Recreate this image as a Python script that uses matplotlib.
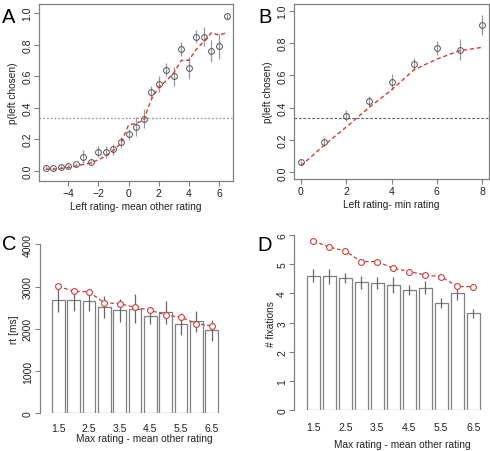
import numpy as np
import matplotlib
matplotlib.use('Agg')
import matplotlib.pyplot as plt

plt.rcParams['font.family'] = ['Liberation Sans', 'DejaVu Sans']
plt.rcParams['font.size'] = 7

##################################################################
# panel A: p(left chosen) vs left rating - mean other rating
xA = [-5.5, -5, -4.5, -4, -3.5, -3, -2.5, -2, -1.5, -1, -0.5, 0, 0.5,
      1, 1.5, 2, 2.5, 3, 3.5, 4, 4.5, 5, 5.5, 6, 6.5]
pA = [0.02, 0.015, 0.025, 0.03, 0.04, 0.09, 0.055, 0.12, 0.12, 0.135, 0.18, 0.23, 0.28,
      0.33, 0.50, 0.55, 0.64, 0.60, 0.77, 0.65, 0.85, 0.85, 0.76, 0.79, 0.98]
eA = [0.01, 0.01, 0.012, 0.015, 0.012, 0.04, 0.015, 0.035, 0.04, 0.035, 0.035, 0.035, 0.06,
      0.06, 0.04, 0.05, 0.04, 0.06, 0.045, 0.07, 0.04, 0.06, 0.07, 0.08, 0.015]
mA = [0.01, 0.01, 0.015, 0.02, 0.03, 0.04, 0.05, 0.07, 0.095, 0.13, 0.175, 0.29, 0.30,
      0.32, 0.45, 0.53, 0.57, 0.62, 0.70, 0.70, 0.77, 0.82, 0.875, 0.86, 0.875]

# panel B: p(left chosen) vs left rating - min rating
xB = [0, 1, 2, 3, 4, 5, 6, 7, 8]
pB = [0.062, 0.19, 0.35, 0.44, 0.56, 0.67, 0.77, 0.757, 0.91]
eB = [0.012, 0.025, 0.035, 0.035, 0.05, 0.04, 0.045, 0.065, 0.06]
mB = [0.04, 0.165, 0.28, 0.40, 0.51, 0.635, 0.70, 0.752, 0.773]

# panels C, D: bars over max rating - mean other rating
cats = ['1.5', '2', '2.5', '3', '3.5', '4', '4.5', '5', '5.5', '6', '6.5']
rtC = [2675, 2675, 2650, 2517, 2438, 2477, 2304, 2390, 2114, 2177, 1964]
rtE = [275, 250, 240, 270, 270, 340, 185, 270, 250, 250, 250]
rtM = [3006, 2888, 2872, 2619, 2596, 2509, 2438, 2327, 2272, 2122, 2067]

fxD = [4.61, 4.59, 4.52, 4.38, 4.35, 4.28, 4.11, 4.20, 3.67, 4.00, 3.32]
fxE = [0.21, 0.26, 0.17, 0.22, 0.20, 0.27, 0.17, 0.23, 0.17, 0.24, 0.16]
fxM = [5.79, 5.59, 5.45, 5.09, 5.09, 4.86, 4.75, 4.63, 4.57, 4.24, 4.23]

##################################################################
W, H = 490., 452.
red = '#c8403f'
gray = '#808080'
txt = '#222222'

def box(l, t, r, b):
    return [l/W, 1-b/H, (r-l)/W, (b-t)/H]

fig = plt.figure(figsize=(W/100, H/100), dpi=100)

def style(ax):
    for s in ax.spines.values():
        s.set_color(gray)
        s.set_linewidth(0.9)
    ax.tick_params(colors=gray, labelcolor=txt, length=3.6, width=0.8, pad=1.5, labelsize=7.5)
    ax.tick_params(axis='y', labelrotation=90)
    for lab in ax.get_yticklabels():
        lab.set_va('center')

##########################
# A
axA = fig.add_axes(box(39.3, 5, 232.7, 181.7))
axA.axhline(1/3., color='#999999', lw=0.9, ls=(0, (1.5, 1.5)))
axA.errorbar(xA, pA, yerr=eA, fmt='none', ecolor='#999999', elinewidth=0.9, capsize=0)
axA.plot(xA, pA, 'o', mfc='none', mec='#555555', ms=4.2, mew=0.7)
axA.plot(xA, mA, '-', color=red, lw=1.0, dashes=(3, 2))
axA.set_xlim(-5.92, 6.91)
axA.set_ylim(-0.063, 1.057)
axA.set_xticks([-4, -2, 0, 2, 4, 6])
axA.set_yticks([0, 0.2, 0.4, 0.6, 0.8, 1.0])
axA.set_yticklabels(['0.0', '0.2', '0.4', '0.6', '0.8', '1.0'])
style(axA)
axA.set_xlabel('Left rating- mean other rating', color=txt, fontsize=7.3, labelpad=2)
axA.set_ylabel('p(left chosen)', color=txt, fontsize=7.3, labelpad=3)

# B
axB = fig.add_axes(box(294.3, 5, 489, 180))
axB.axhline(1/3., color='#666666', lw=0.8, ls=(0, (2.5, 1.5)))
axB.errorbar(xB, pB, yerr=eB, fmt='none', ecolor='#999999', elinewidth=0.9, capsize=0)
axB.plot(xB, pB, 'o', mfc='none', mec='#555555', ms=4.2, mew=0.7)
axB.plot(xB, mB, '-', color=red, lw=1.0, dashes=(3, 2))
axB.set_xlim(-0.29, 8.3)
axB.set_ylim(-0.041, 1.041)
axB.set_xticks([0, 2, 4, 6, 8])
axB.set_yticks([0, 0.2, 0.4, 0.6, 0.8, 1.0])
axB.set_yticklabels(['0.0', '0.2', '0.4', '0.6', '0.8', '1.0'])
style(axB)
axB.set_xlabel('Left rating- min rating', color=txt, fontsize=7.3, labelpad=2)
axB.set_ylabel('p(left chosen)', color=txt, fontsize=7.3, labelpad=3)

##########################
# C and D (barplots)
def barpanel(ax, vals, errs, model, ymax, yt, xlab, xlab_x, xlab_y, tpad):
    pos = np.arange(len(cats))
    ax.bar(pos, vals, width=0.83, color='white', edgecolor=gray, lw=0.9, zorder=2)
    ax.errorbar(pos, vals, yerr=errs, fmt='none', ecolor='#666666', elinewidth=0.9, capsize=0, zorder=3)
    ax.plot(pos, model, '-', color=red, lw=0.9, dashes=(3, 2), zorder=4)
    ax.plot(pos, model, 'o', mfc='white', mec=red, ms=4.2, mew=0.8, zorder=5)
    for s in ['top', 'right', 'bottom']:
        ax.spines[s].set_visible(False)
    ax.spines['left'].set_bounds(0, ymax)
    ax.set_ylim(0, ymax)
    ax.set_yticks(yt)
    style(ax)
    ax.set_xticks(pos[::2])
    ax.set_xticklabels(cats[::2])
    ax.tick_params(axis='x', length=0, pad=tpad)
    ax.set_xlabel(xlab, color=txt, fontsize=7.3, va='center')
    ax.xaxis.set_label_coords(xlab_x, xlab_y)

axC = fig.add_axes(box(40, 245.3, 230, 414.3))
axC.set_xlim(-1.18, 11.18)
barpanel(axC, rtC, rtE, rtM, 4000, [0, 1000, 2000, 3000, 4000],
         'Max rating - mean other rating', (144-40)/190., -(439.5-414.3)/169., 7.2)
axC.set_ylabel('rt [ms]', color=txt, fontsize=7.3, labelpad=3)

axD = fig.add_axes(box(294.3, 236, 490, 411.3))
axD.set_xlim(-1.19, 11.05)
barpanel(axD, fxD, fxE, fxM, 6, [0, 1, 2, 3, 4, 5, 6],
         'Max rating - mean other rating', (402-294.3)/195.7, -(445-411.3)/175.3, 8.6)
axD.set_ylabel('# fixations', color=txt, fontsize=7.3, labelpad=1)

##########################
# panel letters
for lab, x, y in [('A', 2, 23), ('B', 258, 23), ('C', 2, 250), ('D', 257, 251)]:
    fig.text(x/W, 1-y/H, lab, fontsize=14.5, color='black', va='baseline', ha='left')

plt.savefig('out.png', dpi=100)
